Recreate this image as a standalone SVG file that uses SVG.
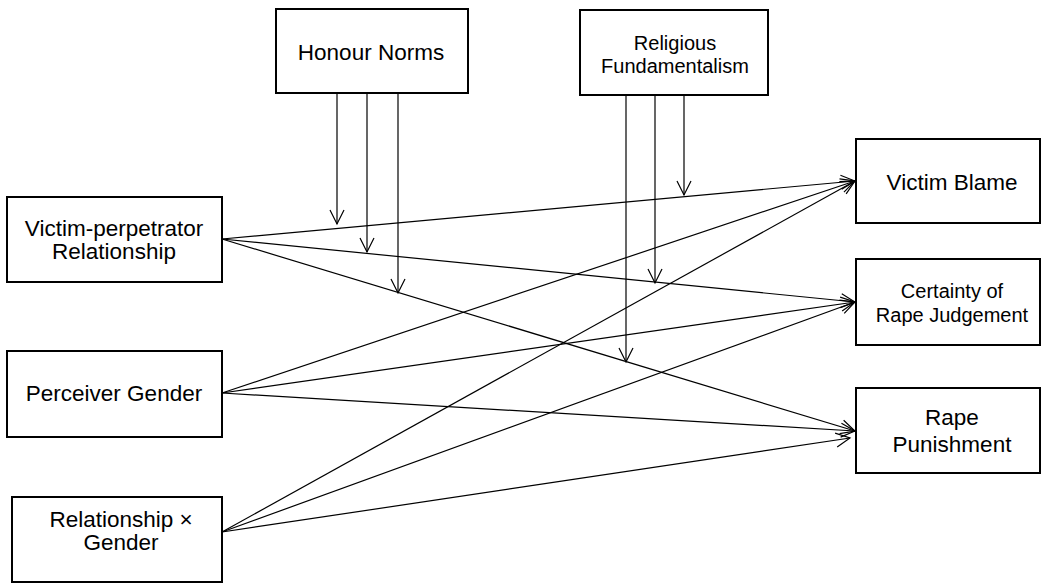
<svg xmlns="http://www.w3.org/2000/svg" width="1046" height="584" viewBox="0 0 1046 584">
<defs>
<style>
.box{fill:#fff;stroke:#000;stroke-width:2}
.t{font-family:"Liberation Sans",Arial,sans-serif;font-size:22.5px;fill:#000;text-anchor:middle}
.s{font-size:20px}
.c{stroke:#000;stroke-width:1.2;fill:none;marker-end:url(#ah)}
</style>
<marker id="ah" viewBox="-16 -9 18 18" refX="0" refY="0" markerWidth="18" markerHeight="18" markerUnits="userSpaceOnUse" orient="auto" overflow="visible">
<path d="M-14,-7 L0,0 L-14,7" fill="none" stroke="#000" stroke-width="1.2"/>
</marker>
</defs>
<rect width="1046" height="584" fill="#fff"/>
<g id="connectors">
<line class="c" x1="222" y1="239" x2="855" y2="181"/>
<line class="c" x1="222" y1="239" x2="855" y2="302"/>
<line class="c" x1="222" y1="239" x2="855" y2="431"/>
<line class="c" x1="222" y1="393" x2="855" y2="181"/>
<line class="c" x1="222" y1="393" x2="855" y2="302"/>
<line class="c" x1="222" y1="393" x2="855" y2="431"/>
<line class="c" x1="222" y1="532" x2="855" y2="181"/>
<line class="c" x1="222" y1="532" x2="855" y2="302"/>
<line class="c" x1="222" y1="532" x2="850" y2="438"/>
<line class="c" x1="337" y1="93" x2="337" y2="224"/>
<line class="c" x1="367" y1="93" x2="367" y2="252"/>
<line class="c" x1="398" y1="93" x2="398" y2="293"/>
<line class="c" x1="626" y1="95" x2="626" y2="362"/>
<line class="c" x1="655" y1="95" x2="655" y2="283"/>
<line class="c" x1="684" y1="95" x2="684" y2="195"/>
</g>
<g id="honour">
<rect class="box" x="276" y="9" width="192" height="84"/>
<text class="t" x="371" y="60">Honour Norms</text>
</g>
<g id="religious">
<rect class="box" x="580" y="10" width="188" height="85"/>
<text class="t s" x="675" y="50">Religious</text>
<text class="t s" x="675" y="73">Fundamentalism</text>
</g>
<g id="relationship">
<rect class="box" x="7" y="197" width="215" height="85"/>
<text class="t" x="114" y="236">Victim-perpetrator</text>
<text class="t" x="114" y="259">Relationship</text>
</g>
<g id="gender">
<rect class="box" x="7" y="351" width="215" height="86"/>
<text class="t" x="114" y="401">Perceiver Gender</text>
</g>
<g id="interaction">
<rect class="box" x="12" y="497" width="210" height="85"/>
<text class="t" x="121" y="527">Relationship ×</text>
<text class="t" x="121" y="550">Gender</text>
</g>
<g id="blame">
<rect class="box" x="856" y="139" width="184" height="84"/>
<text class="t" x="952" y="190">Victim Blame</text>
</g>
<g id="certainty">
<rect class="box" x="856" y="259" width="184" height="86"/>
<text class="t s" x="952" y="298">Certainty of</text>
<text class="t s" x="952" y="322">Rape Judgement</text>
</g>
<g id="punishment">
<rect class="box" x="856" y="388" width="184" height="85"/>
<text class="t" x="952" y="425">Rape</text>
<text class="t" x="952" y="452">Punishment</text>
</g>
</svg>
